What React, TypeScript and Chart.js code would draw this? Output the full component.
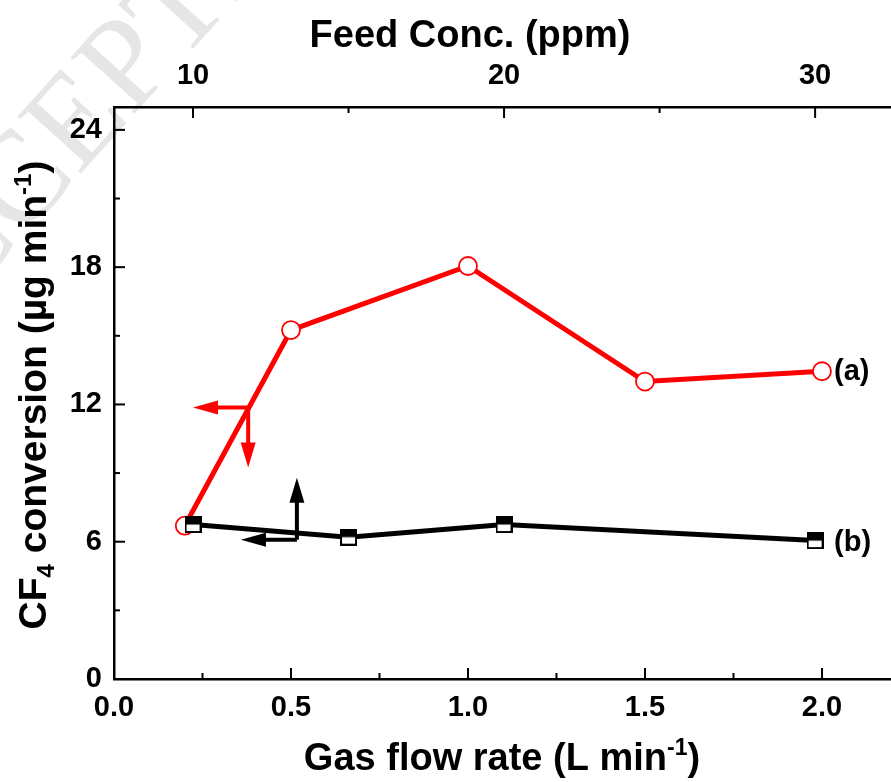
import { useEffect, useRef } from "react";
import { Chart, registerables } from "chart.js";

Chart.register(...registerables);

// ---- data ----
const flowRates = [0.2, 0.5, 1.0, 1.5, 2.0]; // L/min (bottom axis)
const conversionA = [6.7, 15.25, 18.05, 13.0, 13.45];
const feedConcs = [10, 15, 20, 30]; // ppm (top axis)
const conversionB = [6.75, 6.2, 6.75, 6.05];

const flowMinorTicks = [0.25, 0.75, 1.25, 1.75];
const concMinorTicks = [15, 25];
const yMinorTicks = [3, 9, 15, 21];

const seriesLabels = ["(a)", "(b)"];

// arrows (data coordinates): red on bottom/left axes, black on top/left axes
const arrowA = { x: 0.379, y: 11.87, tipX: 0.223, tipY: 9.24 };
const arrowB = { x: 13.34, y: 6.09, tipX: 11.54, tipY: 8.8 };

const FONT = "'Liberation Sans', Arial, Helvetica, sans-serif";
const SERIF = "'Liberation Serif', 'Times New Roman', serif";

type Part = { t: string; s: number; dy?: number };

function richWidth(ctx: CanvasRenderingContext2D, parts: Part[]) {
  let w = 0;
  for (const p of parts) {
    ctx.font = `bold ${p.s}px ${FONT}`;
    w += ctx.measureText(p.t).width;
  }
  return w;
}

function drawRich(ctx: CanvasRenderingContext2D, parts: Part[], cx: number, baseY: number) {
  const w = richWidth(ctx, parts);
  let x = cx - w / 2;
  ctx.textAlign = "left";
  ctx.textBaseline = "alphabetic";
  for (const p of parts) {
    ctx.font = `bold ${p.s}px ${FONT}`;
    ctx.fillText(p.t, x, baseY + (p.dy || 0));
    x += ctx.measureText(p.t).width;
  }
}

function arrowHead(ctx: CanvasRenderingContext2D, tx: number, ty: number, dx: number, dy: number, len: number, half: number) {
  const bx = tx - dx * len;
  const by = ty - dy * len;
  ctx.beginPath();
  ctx.moveTo(tx, ty);
  ctx.lineTo(bx - dy * half, by + dx * half);
  ctx.lineTo(bx + dy * half, by - dx * half);
  ctx.closePath();
  ctx.fill();
}

function makeHalfSquare(size: number) {
  const c = document.createElement("canvas");
  c.width = size;
  c.height = size;
  const g = c.getContext("2d")!;
  g.fillStyle = "#fff";
  g.fillRect(0, 0, size, size);
  g.fillStyle = "#000";
  g.fillRect(0, 0, size, size / 2);
  g.strokeStyle = "#000";
  g.lineWidth = 2;
  g.strokeRect(1, 1, size - 2, size - 2);
  return c;
}

const decorPlugin = {
  id: "decor",
  beforeDraw(chart: any) {
    const ctx = chart.ctx as CanvasRenderingContext2D;
    ctx.save();
    const ang = (-48 * Math.PI) / 180;
    ctx.translate(-126, 352);
    ctx.rotate(ang);
    ctx.font = `130px ${SERIF}`;
    ctx.fillStyle = "#e6e6e6";
    ctx.textBaseline = "middle";
    ctx.textAlign = "left";
    ctx.fillText("ACCEPTED MANUSCRIPT", 0, 0);
    ctx.restore();
  },
  afterDraw(chart: any) {
    const ctx = chart.ctx as CanvasRenderingContext2D;
    const { x, x2, y } = chart.scales;
    const area = chart.chartArea;
    ctx.save();
    ctx.strokeStyle = "#000";
    ctx.lineWidth = 2;
    ctx.lineCap = "butt";
    const bottom = area.bottom;
    const drawV = (px: number, y0: number, len: number) => {
      ctx.beginPath();
      ctx.moveTo(px, y0);
      ctx.lineTo(px, y0 + len);
      ctx.stroke();
    };
    const drawH = (py: number, x0: number, len: number) => {
      ctx.beginPath();
      ctx.moveTo(x0, py);
      ctx.lineTo(x0 + len, py);
      ctx.stroke();
    };
    x.ticks.forEach((t: any) => drawV(x.getPixelForValue(t.value), bottom, -11));
    flowMinorTicks.forEach((v) => drawV(x.getPixelForValue(v), bottom, -6));
    x2.ticks.forEach((t: any) => drawV(x2.getPixelForValue(t.value), area.top, 11));
    concMinorTicks.forEach((v) => drawV(x2.getPixelForValue(v), area.top, 6));
    y.ticks.forEach((t: any) => drawH(y.getPixelForValue(t.value), area.left, 11));
    yMinorTicks.forEach((v) => drawH(y.getPixelForValue(v), area.left, 6));

    // arrows
    const drawArrow = (xs: any, a: any, color: string) => {
      const ox = xs.getPixelForValue(a.x);
      const oy = y.getPixelForValue(a.y);
      const tx = xs.getPixelForValue(a.tipX);
      const ty = y.getPixelForValue(a.tipY);
      ctx.strokeStyle = color;
      ctx.fillStyle = color;
      ctx.lineWidth = 4;
      ctx.beginPath();
      ctx.moveTo(tx + 20, oy);
      ctx.lineTo(ox, oy);
      ctx.stroke();
      const vdir = ty > oy ? 1 : -1;
      ctx.beginPath();
      ctx.moveTo(ox, oy);
      ctx.lineTo(ox, ty - vdir * 20);
      ctx.stroke();
      arrowHead(ctx, tx, oy, -1, 0, 25, 7);
      arrowHead(ctx, ox, ty, 0, vdir, 25, 7.5);
    };
    drawArrow(x, arrowA, "#ff0000");
    drawArrow(x2, arrowB, "#000000");

    // series labels at last points
    ctx.fillStyle = "#000";
    ctx.font = `bold 29px ${FONT}`;
    ctx.textAlign = "left";
    ctx.textBaseline = "middle";
    const lastA = chart.getDatasetMeta(1).data[flowRates.length - 1];
    const lastB = chart.getDatasetMeta(0).data[feedConcs.length - 1];
    ctx.fillText(seriesLabels[0], lastA.x + 12, lastA.y + 1);
    ctx.fillText(seriesLabels[1], lastB.x + 19, lastB.y + 2);

    // axis titles
    drawRich(ctx, [{ t: "Feed Conc. (ppm)", s: 38 }], 470, 47);
    drawRich(
      ctx,
      [
        { t: "Gas flow rate (L min", s: 38 },
        { t: "-1", s: 23, dy: -15 },
        { t: ")", s: 38 },
      ],
      502,
      770
    );
    ctx.translate(46, 395);
    ctx.rotate(-Math.PI / 2);
    drawRich(
      ctx,
      [
        { t: "CF", s: 39 },
        { t: "4", s: 24, dy: 8 },
        { t: " conversion (\u00b5g min", s: 39 },
        { t: "-1", s: 24, dy: -15 },
        { t: ")", s: 39 },
      ],
      0,
      0
    );
    ctx.restore();
  },
};

export default function App() {
  const ref = useRef<HTMLCanvasElement | null>(null);
  useEffect(() => {
    if (!ref.current) return;
    const square = makeHalfSquare(17);
    const tickFont = { family: FONT, size: 29, weight: "bold" as const };
    const chart = new Chart(ref.current, {
      type: "line",
      data: {
        datasets: [
          {
            label: "b",
            data: feedConcs.map((c, i) => ({ x: c, y: conversionB[i] })),
            xAxisID: "x2",
            yAxisID: "y",
            borderColor: "#000",
            borderWidth: 5,
            pointStyle: square as any,
            pointRadius: 8,
            order: 0,
          },
          {
            label: "a",
            data: flowRates.map((f, i) => ({ x: f, y: conversionA[i] })),
            xAxisID: "x",
            yAxisID: "y",
            borderColor: "#ff0000",
            borderWidth: 5,
            pointStyle: "circle",
            pointRadius: 9,
            pointBorderWidth: 1.8,
            pointBorderColor: "#ff0000",
            pointBackgroundColor: "#ffffff",
            order: 1,
          },
        ],
      },
      options: {
        responsive: false,
        animation: false,
        layout: { padding: 0, autoPadding: false },
        plugins: { legend: { display: false }, tooltip: { enabled: false } },
        scales: {
          x: {
            type: "linear",
            position: "bottom",
            min: 0,
            max: 2.195,
            grid: { display: false, drawTicks: false },
            border: { display: true, color: "#000", width: 2.5 },
            ticks: {
              stepSize: 0.5,
              includeBounds: false,
              padding: 12,
              color: "#000",
              font: tickFont,
              maxRotation: 0,
              autoSkip: false,
              callback: (v: any) => Number(v).toFixed(1),
            },
            afterFit: (s: any) => {
              s.height = 103;
            },
          },
          x2: {
            type: "linear",
            position: "top",
            min: 7.46,
            max: 32.44,
            grid: { display: false, drawTicks: false },
            border: { display: true, color: "#000", width: 2.5 },
            ticks: {
              stepSize: 10,
              includeBounds: false,
              padding: 14,
              color: "#000",
              font: tickFont,
              maxRotation: 0,
              autoSkip: false,
            },
            afterFit: (s: any) => {
              s.height = 107;
            },
          },
          y: {
            type: "linear",
            position: "left",
            min: 0,
            max: 25,
            grid: { display: false, drawTicks: false },
            border: { display: true, color: "#000", width: 2.5 },
            ticks: {
              stepSize: 6,
              includeBounds: false,
              padding: 12,
              color: "#000",
              font: tickFont,
              autoSkip: false,
            },
            afterFit: (s: any) => {
              s.width = 114;
            },
          },
        },
      },
      plugins: [decorPlugin],
    });
    return () => chart.destroy();
  }, []);
  return (
    <div style={{ position: "absolute", left: 0, top: 0, width: 891, height: 782, background: "#fff" }}>
      <canvas ref={ref} width={891} height={782} style={{ display: "block" }} />
    </div>
  );
}
